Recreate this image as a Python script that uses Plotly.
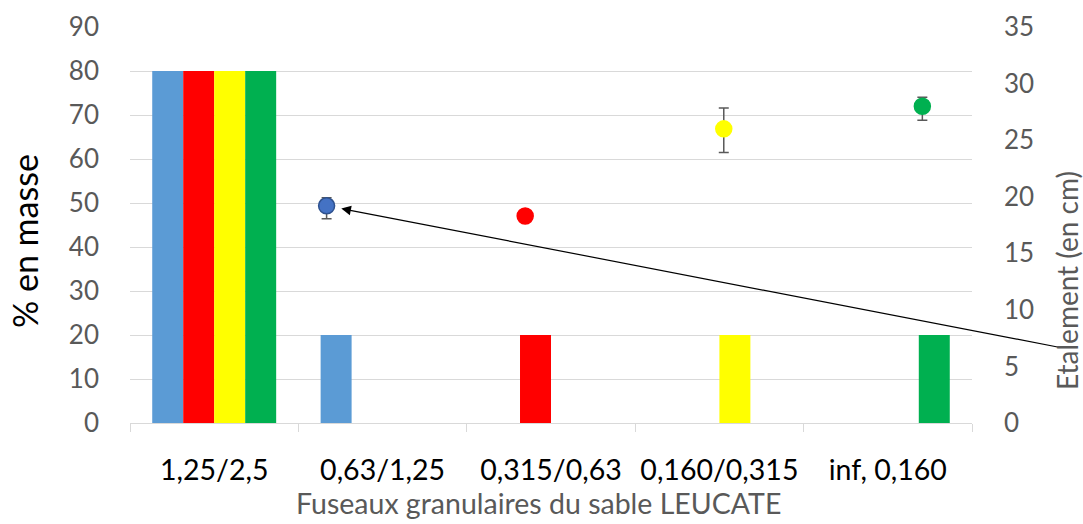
import plotly.graph_objects as go

categories = ["1,25/2,5", "0,63/1,25", "0,315/0,63", "0,160/0,315", "inf, 0,160"]
bar_blue = [80, 20, 0, 0, 0]
bar_red = [80, 0, 20, 0, 0]
bar_yellow = [80, 0, 0, 20, 0]
bar_green = [80, 0, 0, 0, 20]

pt_x = [1, 2, 3, 4]
pt_y = [19.2, 18.3, 26.0, 28.0]
err_plus = [0.7, 0, 1.85, 0.8]
err_minus = [1.15, 0, 2.1, 1.25]
pt_colors = ["#4472C4", "#FF0000", "#FFFF00", "#00B050"]
pt_lines = ["#2F528F", "#FF0000", "#FFFF00", "#00B050"]

left_ticks = list(range(0, 91, 10))
right_ticks = list(range(0, 36, 5))

x_title = "Fuseaux granulaires du sable LEUCATE"
y_title = "% en masse"
y2_title = "Etalement (en cm)"

FONT = "Lato"
GREY = "#595959"

fig = go.Figure()
for vals, col in [(bar_blue, "#5B9BD5"), (bar_red, "#FF0000"),
                  (bar_yellow, "#FFFF00"), (bar_green, "#00B050")]:
    fig.add_trace(go.Bar(x=categories, y=vals, marker=dict(color=col, line=dict(width=0)),
                         showlegend=False, hoverinfo="skip"))

fig.add_trace(go.Scatter(
    x=pt_x, y=pt_y, xaxis="x2", yaxis="y2", mode="markers",
    marker=dict(size=16, color=pt_colors, line=dict(color=pt_lines, width=1.5)),
    error_y=dict(type="data", array=err_plus, arrayminus=err_minus, symmetric=False,
                 color=GREY, thickness=1.5, width=5),
    showlegend=False))

fig.add_annotation(x=1, y=pt_y[0], xref="x2", yref="y2",
                   ax=735, ay=142, axref="pixel", ayref="pixel",
                   showarrow=True, arrowhead=2, arrowsize=1.6, arrowwidth=1.2,
                   arrowcolor="#000000", standoff=15, text="")

# axis titles placed as annotations
fig.add_annotation(text=y_title, xref="paper", yref="paper", x=-0.1247, y=0.4596,
                   textangle=-90, showarrow=False, xanchor="center", yanchor="middle",
                   font=dict(size=34, color="#000000", family=FONT))
fig.add_annotation(text=y2_title, xref="paper", yref="paper", x=1.1128, y=0.361,
                   textangle=-90, showarrow=False, xanchor="center", yanchor="middle",
                   font=dict(size=28, color=GREY, family=FONT))
fig.add_annotation(text=x_title, xref="paper", yref="paper", x=0.4846, y=-0.202,
                   showarrow=False, xanchor="center", yanchor="middle",
                   font=dict(size=28.5, color=GREY, family=FONT))

fig.update_layout(
    width=1083, height=524,
    margin=dict(l=130, r=111, t=27, b=101, autoexpand=False),
    paper_bgcolor="white", plot_bgcolor="white",
    barmode="group", bargap=0.264, bargroupgap=0,
    font=dict(family=FONT, color=GREY, size=18),
    xaxis=dict(type="category", showgrid=False, showline=True, linecolor="#D9D9D9",
               linewidth=1, ticks="outside", tickson="boundaries", ticklen=8,
               tickcolor="#D9D9D9", tickfont=dict(size=28.5, color="#000000"),
               tickangle=0, ticklabelstandoff=22, automargin=False, zeroline=False),
    xaxis2=dict(overlaying="x", range=[0.01, 4.25], visible=False, anchor="y"),
    yaxis=dict(range=[0, 90], tickvals=left_ticks, showgrid=True, gridcolor="#D9D9D9",
               gridwidth=1, zeroline=False, showline=False, automargin=False,
               tickfont=dict(size=26, color=GREY), ticklabelstandoff=30),
    yaxis2=dict(range=[0, 35], tickvals=right_ticks, overlaying="y", side="right",
                anchor="x", showgrid=False, zeroline=False, showline=False, automargin=False,
                tickfont=dict(size=26, color=GREY), ticklabelstandoff=31),
)

fig.write_html("out.html", config={"displayModeBar": False},
               post_script="document.body.style.margin='0px';")
